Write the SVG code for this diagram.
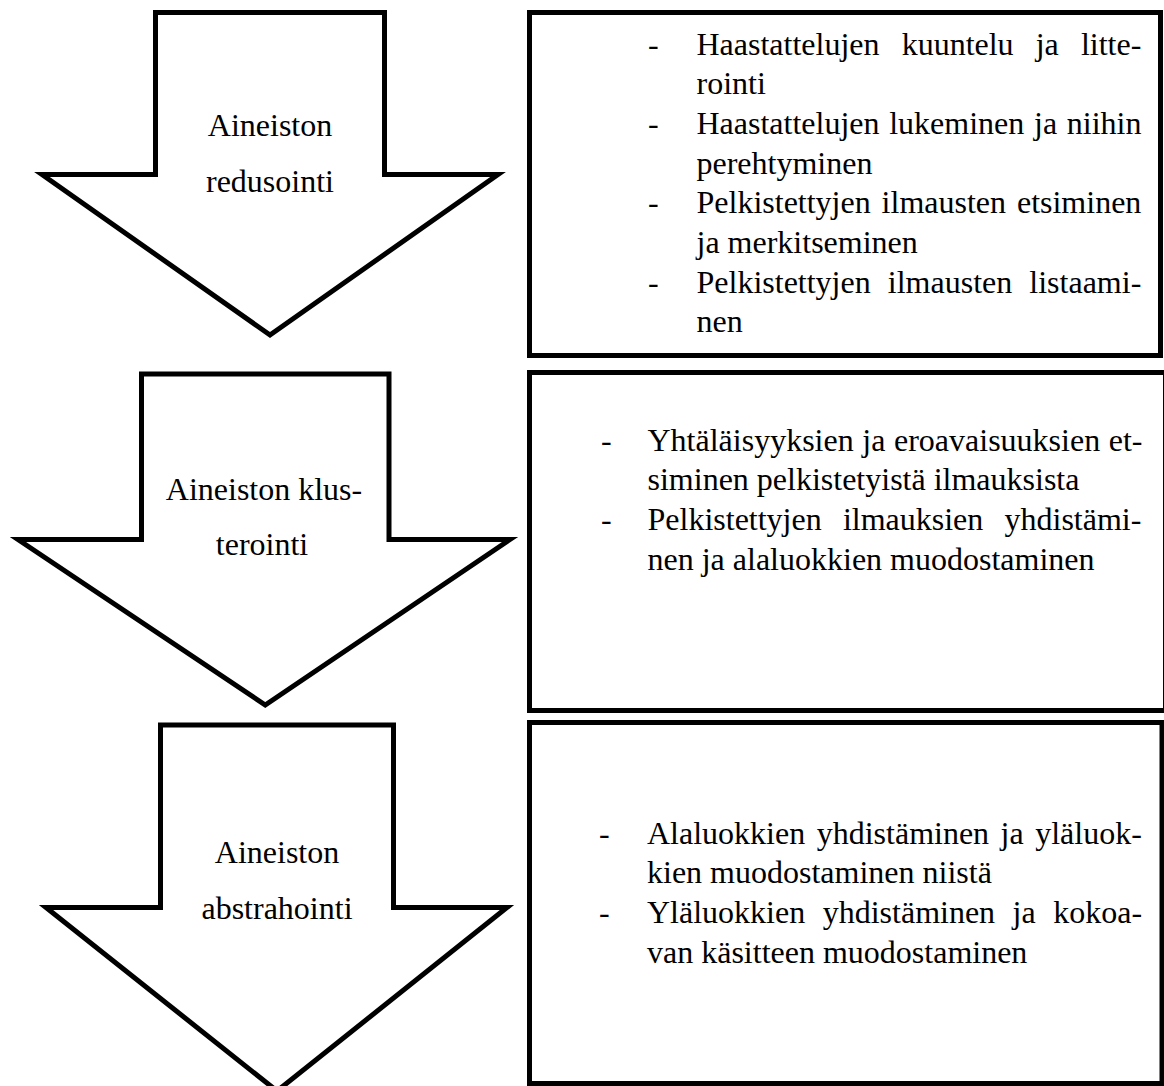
<svg xmlns="http://www.w3.org/2000/svg" width="1164" height="1086" viewBox="0 0 1164 1086">
  <style>
    .shape { fill: #ffffff; stroke: #000000; stroke-width: 5; stroke-linejoin: miter; stroke-miterlimit: 10; }
    .box { fill: #ffffff; stroke: #000000; stroke-width: 5; }
    text { font-family: "Liberation Serif", "Times New Roman", serif; font-size: 32px; fill: #000000; }
    .c { text-anchor: middle; }
  </style>
  <rect x="0" y="0" width="1164" height="1086" fill="#ffffff"/>

  <g id="arrow-redusointi">
    <polygon class="shape" points="155.5,12.5 384.5,12.5 384.5,174.5 498,174.5 270,335 42,174.5 155.5,174.5"/>
    <text class="c" x="270" y="136">Aineiston</text>
    <text class="c" x="270" y="192">redusointi</text>
  </g>

  <g id="box-redusointi">
    <rect class="box" x="529.5" y="12.5" width="631" height="343"/>
    <text x="648" y="54.5">-</text>
    <text x="696.5" y="54.5" word-spacing="14.1">Haastattelujen kuuntelu ja litte-</text>
    <text x="696.5" y="94.2">rointi</text>
    <text x="648" y="133.9">-</text>
    <text x="696.5" y="133.9" word-spacing="1.7">Haastattelujen lukeminen ja niihin</text>
    <text x="696.5" y="173.6">perehtyminen</text>
    <text x="648" y="213.3">-</text>
    <text x="696.5" y="213.3" word-spacing="2.9">Pelkistettyjen ilmausten etsiminen</text>
    <text x="696.5" y="253">ja merkitseminen</text>
    <text x="648" y="292.7">-</text>
    <text x="696.5" y="292.7" word-spacing="9.1">Pelkistettyjen ilmausten listaami-</text>
    <text x="696.5" y="332.4">nen</text>
  </g>

  <g id="arrow-klusterointi">
    <polygon class="shape" points="141.5,374 389,374 389,539.5 510,539.5 265.25,705 18,539.5 141.5,539.5"/>
    <text class="c" x="264" y="500">Aineiston klus-</text>
    <text class="c" x="262" y="555">terointi</text>
  </g>

  <g id="box-klusterointi">
    <rect class="box" x="529.5" y="372.5" width="636" height="338"/>
    <text x="601" y="450.5">-</text>
    <text x="647.5" y="450.5" word-spacing="0.6">Yhtäläisyyksien ja eroavaisuuksien et-</text>
    <text x="647.5" y="490.2">siminen pelkistetyistä ilmauksista</text>
    <text x="601" y="529.9">-</text>
    <text x="647.5" y="529.9" word-spacing="13.2">Pelkistettyjen ilmauksien yhdistämi-</text>
    <text x="647.5" y="569.6">nen ja alaluokkien muodostaminen</text>
  </g>

  <g id="arrow-abstrahointi">
    <polygon class="shape" points="160.5,725 393.5,725 393.5,907.5 507,907.5 277,1091 46,907.5 160.5,907.5"/>
    <text class="c" x="277" y="863">Aineiston</text>
    <text class="c" x="277" y="919">abstrahointi</text>
  </g>

  <g id="box-abstrahointi">
    <rect class="box" x="529.5" y="722.5" width="632.5" height="361"/>
    <text x="599" y="843.5">-</text>
    <text x="647" y="843.5" word-spacing="3.5">Alaluokkien yhdistäminen ja yläluok-</text>
    <text x="647" y="883.2">kien muodostaminen niistä</text>
    <text x="599" y="922.9">-</text>
    <text x="647" y="922.9" word-spacing="9.5">Yläluokkien yhdistäminen ja kokoa-</text>
    <text x="647" y="962.6">van käsitteen muodostaminen</text>
  </g>

  <g id="connectors"/>
</svg>
